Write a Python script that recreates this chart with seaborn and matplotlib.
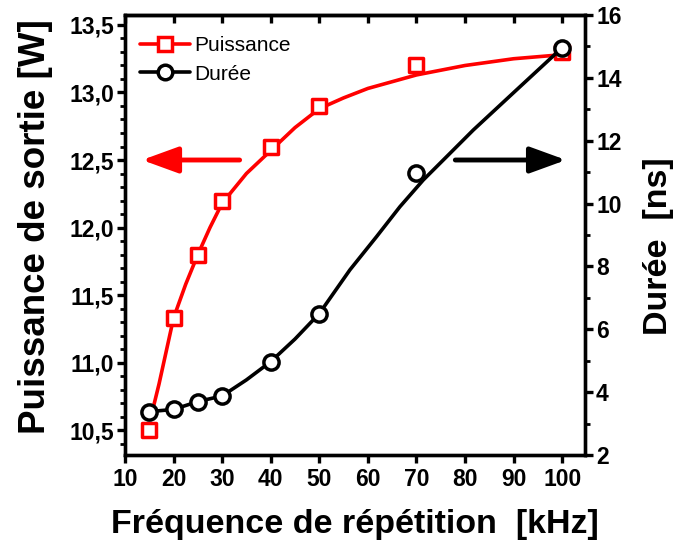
import matplotlib
matplotlib.use("Agg")
import matplotlib.pyplot as plt
import seaborn as sns
import numpy as np
import pandas as pd
from matplotlib.lines import Line2D
from matplotlib.ticker import MultipleLocator, FuncFormatter

# ---- data ----
freq = [15, 20, 25, 30, 40, 50, 70, 100]
puissance = [10.5, 11.33, 11.8, 12.2, 12.6, 12.9, 13.2, 13.3]
duree = [3.38, 3.45, 3.7, 3.88, 4.97, 6.5, 10.98, 14.96]

# smooth fitted curves
p_fit_x = [15.5, 17, 20, 22.5, 25, 27.5, 30, 35, 40, 45, 50, 55, 60, 70, 80, 90, 100]
p_fit_y = [10.62, 10.84, 11.33, 11.58, 11.8, 12.0, 12.18, 12.40, 12.57, 12.74, 12.88, 12.96,
           13.03, 13.13, 13.2, 13.25, 13.28]
d_fit_x = [15, 20, 25, 30, 35, 40, 45, 50, 56.3, 61.8, 66.6, 71.4, 76.2, 81.7, 90, 100]
d_fit_y = [3.38, 3.45, 3.7, 3.88, 4.39, 4.97, 5.69, 6.5, 7.89, 8.95, 9.90, 10.75, 11.49,
           12.34, 13.53, 14.96]

sns.set_theme(style="white")
plt.rcParams['font.family'] = ['Liberation Sans', 'DejaVu Sans']
plt.rcParams.update({'text.color': 'black', 'axes.labelcolor': 'black',
                     'xtick.color': 'black', 'ytick.color': 'black'})

fig = plt.figure(figsize=(6.77, 5.40), dpi=100)
ax = fig.add_axes([125/677, 1 - 455/540, 460/677, 440/540])
ax2 = ax.twinx()

red = '#ff0000'
lw = 2.6

pts = pd.DataFrame({'f': freq, 'p': puissance, 'd': duree})
pfit = pd.DataFrame({'x': p_fit_x, 'y': p_fit_y})
dfit = pd.DataFrame({'x': d_fit_x, 'y': d_fit_y})

sns.lineplot(data=pfit, x='x', y='y', ax=ax, color=red, lw=lw, zorder=2, legend=False)
sns.scatterplot(data=pts, x='f', y='p', ax=ax, marker='s', s=95, facecolor='white',
                edgecolor=red, linewidth=2.5, zorder=3, legend=False)
sns.lineplot(data=dfit, x='x', y='y', ax=ax2, color='black', lw=lw, zorder=2, legend=False)
sns.scatterplot(data=pts, x='f', y='d', ax=ax2, marker='o', s=120, facecolor='white',
                edgecolor='black', linewidth=2.5, zorder=3, legend=False)

ax.set_xlim(10, 104.7)
ax.set_ylim(10.315, 13.574)
ax2.set_ylim(2, 16)

ax.xaxis.set_major_locator(MultipleLocator(10))
ax.yaxis.set_major_locator(MultipleLocator(0.5))
ax.yaxis.set_minor_locator(MultipleLocator(0.1))
ax2.yaxis.set_major_locator(MultipleLocator(2))
ax2.yaxis.set_minor_locator(MultipleLocator(1))
ax.yaxis.set_major_formatter(FuncFormatter(lambda v, p: f"{v:.1f}".replace('.', ',')))

for a in (ax, ax2):
    for s in a.spines.values():
        s.set_linewidth(2.4)
        s.set_color('black')

tick_font = dict(labelsize=16.5, labelcolor='black')
ax.tick_params(axis='x', which='major', bottom=True, top=False, direction='out', length=6,
               width=2.4, color='black', pad=3, **tick_font)
ax.tick_params(axis='y', which='major', left=True, direction='out', length=6, width=2.4,
               color='black', pad=2, **tick_font)
ax.tick_params(axis='y', which='minor', left=True, direction='out', length=3.5, width=2.0,
               color='black')
ax2.tick_params(axis='y', which='major', right=True, direction='out', length=6, width=2.4,
                color='black', pad=2, **tick_font)
ax2.tick_params(axis='y', which='minor', right=True, direction='out', length=3.5, width=2.0,
                color='black')
for lab in ax.get_xticklabels() + ax.get_yticklabels() + ax2.get_yticklabels():
    lab.set_fontweight('bold')

sec = ax.secondary_xaxis('top')
sec.xaxis.set_major_locator(MultipleLocator(10))
sec.tick_params(axis='x', direction='in', length=6, width=2.4, color='black', labeltop=False)
sec.spines['top'].set_linewidth(2.4)

ax.set_xlabel('Fréquence de répétition  [kHz]', fontsize=24.5, fontweight='bold', labelpad=13)
ax.set_ylabel('Puissance de sortie [W]', fontsize=26.5, fontweight='bold')
ax2.set_ylabel('Durée  [ns]', fontsize=24.5, fontweight='bold')
ax.yaxis.set_label_coords((53 - 125) / 460, (455 - 227) / 440)
ax2.yaxis.set_label_coords((643 - 125) / 460, (455 - 246) / 440)

# arrows
arrow_style = '-|>,head_length=1.1,head_width=0.4'
ax.annotate('', xy=(13.5, 12.5), xytext=(33.6, 12.5),
            arrowprops=dict(arrowstyle=arrow_style, lw=3.5, mutation_scale=20,
                            color=red, shrinkA=0, shrinkB=0, capstyle='round'))
ax.annotate('', xy=(100.8, 12.5), xytext=(78.0, 12.5),
            arrowprops=dict(arrowstyle=arrow_style, lw=3.5, mutation_scale=20,
                            color='black', shrinkA=0, shrinkB=0, capstyle='round'))

handles = [
    Line2D([], [], color=red, lw=lw, marker='s', markersize=9.5, markerfacecolor='white',
           markeredgecolor=red, markeredgewidth=2.5),
    Line2D([], [], color='black', lw=lw, marker='o', markersize=10.5, markerfacecolor='white',
           markeredgecolor='black', markeredgewidth=2.5),
]
leg = ax2.legend(handles, ['Puissance', 'Durée'], loc='upper left', frameon=False,
                 fontsize=15, handlelength=2.4, handletextpad=0.2, labelspacing=0.45,
                 borderaxespad=0.3, bbox_to_anchor=(0.0, 0.985))

fig.savefig('out.png', dpi=100)
